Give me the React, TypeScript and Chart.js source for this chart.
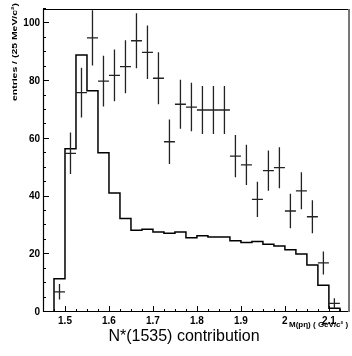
import React, { useEffect, useRef } from 'react';
import { Chart, registerables } from 'chart.js';

Chart.register(...registerables);

// ---- data ----
const binCenters = [1.4875, 1.5125, 1.5375, 1.5625, 1.5875, 1.6125, 1.6375, 1.6625, 1.6875, 1.7125, 1.7375, 1.7625, 1.7875, 1.8125, 1.8375, 1.8625, 1.8875, 1.9125, 1.9375, 1.9625, 1.9875, 2.0125, 2.0375, 2.0625, 2.0875, 2.1125];
const binWidth = 0.025;
const dataEntries = [7, 55, 76, 95, 80, 82, 85, 94, 90, 81, 59, 72, 71, 70, 70, 70, 54, 51, 39, 49, 50, 35, 42, 33, 17, 3];
const dataErrors = [2.7, 7.2, 8.6, 9.6, 8.8, 9, 9.2, 9.5, 9.3, 9, 7.7, 8.5, 8.4, 8.3, 8.3, 8.3, 7.3, 7, 6.1, 7, 7.1, 6, 6.4, 5.7, 4, 1.8];
const mcEntries = [11.5, 56.6, 89.1, 76.7, 55.2, 41.2, 32.4, 28.3, 28.7, 27.7, 27.3, 27.7, 25.7, 26.4, 26.0, 26.0, 24.7, 24.1, 24.4, 23.5, 22.9, 21.6, 20.1, 16.3, 9.3, 1.3];

const xTickValues = [1.5, 1.6, 1.7, 1.8, 1.9, 2.0, 2.1];
const xTickLabels = ['1.5', '1.6', '1.7', '1.8', '1.9', '2', '2.1'];
const yTickValues = [0, 20, 40, 60, 80, 100];
const yTickLabels = ['0', '20', '40', '60', '80', '100'];

const chartTitle = 'N*(1535) contribution';
const xTitle = 'M(pη) ( GeV/c² )';
const yTitle = 'entries / (25 MeV/c²)';

const FONT = '"Liberation Sans", Arial, Helvetica, sans-serif';

// histogram outline points (bin edges)
function histPoints() {
  const pts: { x: number; y: number }[] = [];
  const firstEdge = binCenters[0] - binWidth / 2;
  pts.push({ x: firstEdge, y: 0 });
  binCenters.forEach((c, i) => pts.push({ x: c - binWidth / 2, y: mcEntries[i] }));
  const last = binCenters[binCenters.length - 1] + binWidth / 2;
  pts.push({ x: last, y: mcEntries[mcEntries.length - 1] });
  pts.push({ x: last, y: 0 });
  return pts;
}

const decorPlugin = {
  id: 'decor',
  afterDatasetsDraw(chart: any) {
    const { ctx, chartArea: a, scales } = chart;
    const x = scales.x;
    const y = scales.y;
    ctx.save();

    // error bars / crosses
    const meta = chart.getDatasetMeta(1);
    ctx.strokeStyle = '#222';
    ctx.lineWidth = 1.3;
    ctx.beginPath();
    meta.data.forEach((el: any, i: number) => {
      const c = binCenters[i];
      const px = el.x;
      const py = el.y;
      const top = y.getPixelForValue(dataEntries[i] + dataErrors[i]);
      const bot = y.getPixelForValue(Math.max(0, dataEntries[i] - dataErrors[i]));
      const l = x.getPixelForValue(c - binWidth / 2);
      const r = x.getPixelForValue(c + binWidth / 2);
      ctx.moveTo(l, py);
      ctx.lineTo(r, py);
      ctx.moveTo(px, top);
      ctx.lineTo(px, bot);
    });
    ctx.stroke();

    // frame
    ctx.strokeStyle = '#000';
    ctx.lineWidth = 1.2;
    ctx.beginPath();
    ctx.moveTo(a.left + 0.5, a.bottom);
    ctx.lineTo(a.left + 0.5, a.top + 0.5);
    ctx.lineTo(a.right, a.top + 0.5);
    ctx.moveTo(a.left, a.bottom - 0.5);
    ctx.lineTo(a.right, a.bottom - 0.5);
    ctx.stroke();
    ctx.strokeStyle = '#777';
    ctx.lineWidth = 2;
    ctx.beginPath();
    ctx.moveTo(a.right - 1, a.top);
    ctx.lineTo(a.right - 1, a.bottom);
    ctx.stroke();

    // y ticks (inside)
    ctx.strokeStyle = '#000';
    ctx.lineWidth = 1;
    ctx.beginPath();
    for (let v = 0; v <= y.max + 1e-9; v += 5) {
      const py = Math.round(y.getPixelForValue(v)) - 0.5;
      const len = yTickValues.includes(v) ? 6 : 3;
      ctx.moveTo(a.left, py);
      ctx.lineTo(a.left + len, py);
    }
    // x ticks (inside)
    for (let k = 0; ; k++) {
      const v = 1.45 + k * 0.025;
      if (v > x.max + 1e-9) break;
      const px = Math.round(x.getPixelForValue(v)) + 0.5;
      const major = xTickValues.some((t) => Math.abs(t - v) < 1e-6);
      const len = major ? 6 : 3;
      ctx.moveTo(px, a.bottom);
      ctx.lineTo(px, a.bottom - len);
    }
    ctx.stroke();

    // titles
    ctx.fillStyle = '#000';
    ctx.font = `16px ${FONT}`;
    ctx.textAlign = 'center';
    ctx.textBaseline = 'middle';
    ctx.fillText(chartTitle, 184, 337);

    ctx.font = `bold 8px ${FONT}`;
    ctx.textAlign = 'left';
    ctx.textBaseline = 'middle';
    ctx.fillText(xTitle, 289, 325);

    ctx.save();
    ctx.translate(14.5, 3);
    ctx.rotate(-Math.PI / 2);
    ctx.font = `bold 8px ${FONT}`;
    ctx.textAlign = 'right';
    ctx.textBaseline = 'middle';
    const w = ctx.measureText(yTitle).width;
    const sx = 98 / w;
    ctx.scale(sx, 1);
    ctx.fillText(yTitle, 0, 0);
    ctx.restore();

    ctx.restore();
  },
};

export default function App() {
  const ref = useRef<HTMLCanvasElement>(null);
  useEffect(() => {
    if (!ref.current) return;
    const chart = new Chart(ref.current, {
      type: 'line',
      data: {
        datasets: [
          {
            label: 'MC',
            data: histPoints(),
            stepped: 'before',
            borderColor: '#000',
            borderWidth: 1.5,
            pointRadius: 0,
            fill: false,
          } as any,
          {
            type: 'scatter',
            label: 'data',
            data: binCenters.map((c, i) => ({ x: c, y: dataEntries[i] })),
            pointRadius: 0,
            showLine: false,
            borderColor: '#000',
          } as any,
        ],
      },
      options: {
        responsive: false,
        animation: false,
        devicePixelRatio: 1,
        layout: { padding: { top: 5, right: 2, left: 0, bottom: 0 } },
        plugins: {
          legend: { display: false },
          title: { display: false },
          tooltip: { enabled: false },
        },
        scales: {
          x: {
            type: 'linear',
            min: 1.45,
            max: 2.148,
            afterBuildTicks: (s: any) => {
              s.ticks = xTickValues.map((v) => ({ value: v }));
            },
            afterFit: (s: any) => {
              s.height = 44;
            },
            grid: { display: false, drawTicks: false },
            border: { display: false },
            ticks: {
              autoSkip: false,
              maxRotation: 0,
              padding: 3,
              color: '#000',
              font: { family: FONT, size: 10, weight: 'bold' },
              callback: (_v: any, i: number) => xTickLabels[i],
            },
          },
          y: {
            type: 'linear',
            min: 0,
            max: 105,
            afterBuildTicks: (s: any) => {
              s.ticks = yTickValues.map((v) => ({ value: v }));
            },
            afterFit: (s: any) => {
              s.width = 43;
            },
            grid: { display: false, drawTicks: false },
            border: { display: false },
            ticks: {
              autoSkip: false,
              padding: 3,
              color: '#000',
              font: { family: FONT, size: 10, weight: 'bold' },
              callback: (_v: any, i: number) => yTickLabels[i],
            },
          },
        },
      } as any,
      plugins: [decorPlugin],
    });
    return () => chart.destroy();
  }, []);
  return (
    <div style={{ position: 'absolute', left: 0, top: 0, width: 352, height: 356, background: '#fff' }}>
      <canvas ref={ref} width={352} height={356} style={{ display: 'block' }} />
    </div>
  );
}
